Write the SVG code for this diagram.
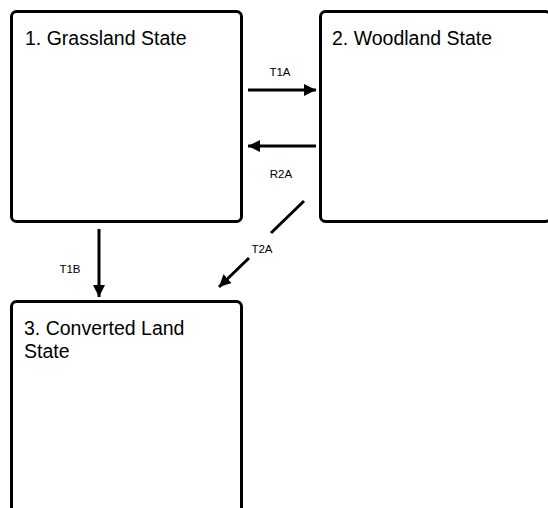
<svg xmlns="http://www.w3.org/2000/svg" width="548" height="508" viewBox="0 0 548 508">
<defs>
<style>
.box{fill:#fff;stroke:#000;stroke-width:3}
.title{font-family:"Liberation Sans",Arial,sans-serif;font-size:19.5px;fill:#000}
.lbl{font-family:"Liberation Sans",Arial,sans-serif;font-size:11.5px;fill:#000;text-anchor:middle}
.edge{stroke:#000;stroke-width:3;fill:none;marker-end:url(#ah)}
.seg{stroke:#000;stroke-width:3;fill:none}
</style>
<marker id="ah" markerWidth="4" markerHeight="4" refX="4" refY="2" orient="auto" markerUnits="strokeWidth">
<path d="M0,0 L4,2 L0,4 Z" fill="#000"/>
</marker>
</defs>
<rect width="548" height="508" fill="#fff"/>
<g id="node1">
<rect class="box" x="11.5" y="11.5" width="230" height="210" rx="5"/>
<text class="title" x="25" y="45">1. Grassland State</text>
</g>
<g id="node2">
<rect class="box" x="320.5" y="11.5" width="230" height="210" rx="5"/>
<text class="title" x="332" y="45">2. Woodland State</text>
</g>
<g id="node3">
<rect class="box" x="11.5" y="301.5" width="230" height="215" rx="5"/>
<text class="title" x="24" y="335">3. Converted Land</text>
<text class="title" x="24" y="358">State</text>
</g>
<g id="connectors">
<line class="edge" x1="248" y1="90" x2="316" y2="90"/>
<text class="lbl" x="280" y="76">T1A</text>
<line class="edge" x1="316" y1="146" x2="248" y2="146"/>
<text class="lbl" x="281" y="178">R2A</text>
<line class="edge" x1="99" y1="229" x2="99" y2="297"/>
<text class="lbl" x="70" y="273">T1B</text>
<line class="seg" x1="304" y1="201" x2="271" y2="233"/>
<line class="edge" x1="249" y1="258" x2="219" y2="287"/>
<text class="lbl" x="262" y="253">T2A</text>
</g>
</svg>
